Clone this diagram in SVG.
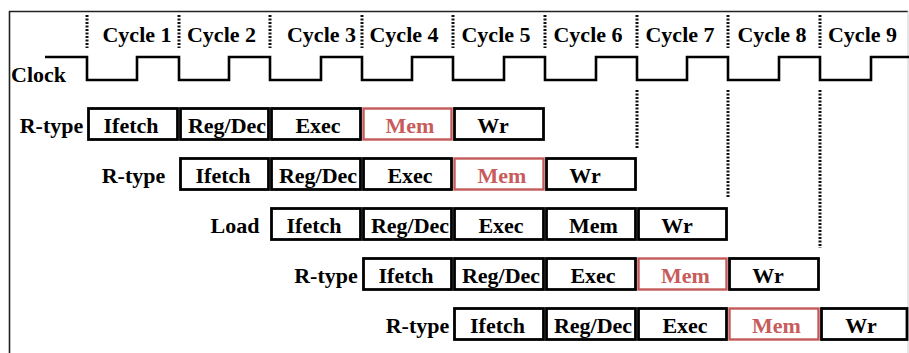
<svg xmlns="http://www.w3.org/2000/svg" width="909" height="353" viewBox="0 0 909 353">
<style>
text{font-family:"Liberation Serif","Times New Roman",serif;font-weight:bold;font-size:22px;fill:#000;text-anchor:middle}
.b{fill:#fff;stroke:#000;stroke-width:2.8}
.r{fill:#fff;stroke:#c55a5a;stroke-width:2.4}
text.rt{fill:#c85c5c}
.dot{stroke:#111;stroke-width:3;stroke-dasharray:2 1.5;fill:none}
</style>
<rect x="0" y="0" width="909" height="353" fill="#fff"/>
<g id="frame">
<line x1="9.5" y1="11" x2="9.5" y2="353" stroke="#222" stroke-width="1.6"/>
<line x1="9" y1="11.5" x2="908" y2="11.5" stroke="#222" stroke-width="1.4"/>
<line x1="908" y1="11" x2="908" y2="353" stroke="#ccc" stroke-width="1"/>
</g>
<g id="guides">
<path class="dot" d="M87,15V48M179,15V48M270,15V48M362,15V48M453,15V48M545,15V48M637,15V48M728,15V48M820,15V48"/>
<path class="dot" d="M637,90V148M728,90V198M820,90V248"/>
</g>
<g id="cycles">
<text x="137" y="42">Cycle 1</text>
<text x="221.5" y="42">Cycle 2</text>
<text x="321.5" y="42">Cycle 3</text>
<text x="404" y="42">Cycle 4</text>
<text x="496" y="42">Cycle 5</text>
<text x="588" y="42">Cycle 6</text>
<text x="680" y="42">Cycle 7</text>
<text x="772" y="42">Cycle 8</text>
<text x="862.5" y="42">Cycle 9</text>
</g>
<g id="clock">
<text x="38.5" y="82">Clock</text>
<path d="M45,57H87V80H137V57H179V80H229V57H270V80H321V57H362V80H412V57H453V80H504V57H545V80H596V57H637V80H687V57H728V80H779V57H820V80H871V57H909" fill="none" stroke="#000" stroke-width="2.6"/>
</g>
<g id="row1">
<text x="51.5" y="133">R-type</text>
<g id="r1-ifetch"><rect class="b" x="88.5" y="108.5" width="89" height="31"/><text x="131" y="133">Ifetch</text></g>
<g id="r1-regdec"><rect class="b" x="180.5" y="108.5" width="88" height="31"/><text x="227" y="133">Reg/Dec</text></g>
<g id="r1-exec"><rect class="b" x="271.5" y="108.5" width="89" height="31"/><text x="318" y="133">Exec</text></g>
<g id="r1-mem"><rect class="r" x="363.5" y="108.5" width="88" height="31"/><text class="rt" x="410" y="133">Mem</text></g>
<g id="r1-wr"><rect class="b" x="454.5" y="108.5" width="89" height="31"/><text x="493" y="133">Wr</text></g>
</g>
<g id="row2">
<text x="133.5" y="183">R-type</text>
<g id="r2-ifetch"><rect class="b" x="180.5" y="158.5" width="88" height="31"/><text x="223" y="183">Ifetch</text></g>
<g id="r2-regdec"><rect class="b" x="271.5" y="158.5" width="89" height="31"/><text x="318" y="183">Reg/Dec</text></g>
<g id="r2-exec"><rect class="b" x="363.5" y="158.5" width="88" height="31"/><text x="410" y="183">Exec</text></g>
<g id="r2-mem"><rect class="r" x="454.5" y="158.5" width="89" height="31"/><text class="rt" x="502" y="183">Mem</text></g>
<g id="r2-wr"><rect class="b" x="546.5" y="158.5" width="89" height="31"/><text x="585" y="183">Wr</text></g>
</g>
<g id="row3">
<text x="235" y="233">Load</text>
<g id="r3-ifetch"><rect class="b" x="271.5" y="208.5" width="89" height="31"/><text x="314" y="233">Ifetch</text></g>
<g id="r3-regdec"><rect class="b" x="363.5" y="208.5" width="88" height="31"/><text x="410" y="233">Reg/Dec</text></g>
<g id="r3-exec"><rect class="b" x="454.5" y="208.5" width="89" height="31"/><text x="501" y="233">Exec</text></g>
<g id="r3-mem"><rect class="b" x="546.5" y="208.5" width="89" height="31"/><text x="593.5" y="233">Mem</text></g>
<g id="r3-wr"><rect class="b" x="638.5" y="208.5" width="88" height="31"/><text x="677" y="233">Wr</text></g>
</g>
<g id="row4">
<text x="326" y="283">R-type</text>
<g id="r4-ifetch"><rect class="b" x="363.5" y="258.5" width="88" height="31"/><text x="406" y="283">Ifetch</text></g>
<g id="r4-regdec"><rect class="b" x="454.5" y="258.5" width="89" height="31"/><text x="501" y="283">Reg/Dec</text></g>
<g id="r4-exec"><rect class="b" x="546.5" y="258.5" width="89" height="31"/><text x="593" y="283">Exec</text></g>
<g id="r4-mem"><rect class="r" x="638.5" y="258.5" width="88" height="31"/><text class="rt" x="685.5" y="283">Mem</text></g>
<g id="r4-wr"><rect class="b" x="729.5" y="258.5" width="89" height="31"/><text x="768" y="283">Wr</text></g>
</g>
<g id="row5">
<text x="417.5" y="333">R-type</text>
<g id="r5-ifetch"><rect class="b" x="454.5" y="308.5" width="89" height="31"/><text x="497.5" y="333">Ifetch</text></g>
<g id="r5-regdec"><rect class="b" x="546.5" y="308.5" width="89" height="31"/><text x="593" y="333">Reg/Dec</text></g>
<g id="r5-exec"><rect class="b" x="638.5" y="308.5" width="88" height="31"/><text x="685" y="333">Exec</text></g>
<g id="r5-mem"><rect class="r" x="729.5" y="308.5" width="89" height="31"/><text class="rt" x="776.5" y="333">Mem</text></g>
<g id="r5-wr"><rect class="b" x="821.5" y="308.5" width="85.5" height="31"/><text x="861" y="333">Wr</text></g>
</g>
</svg>
